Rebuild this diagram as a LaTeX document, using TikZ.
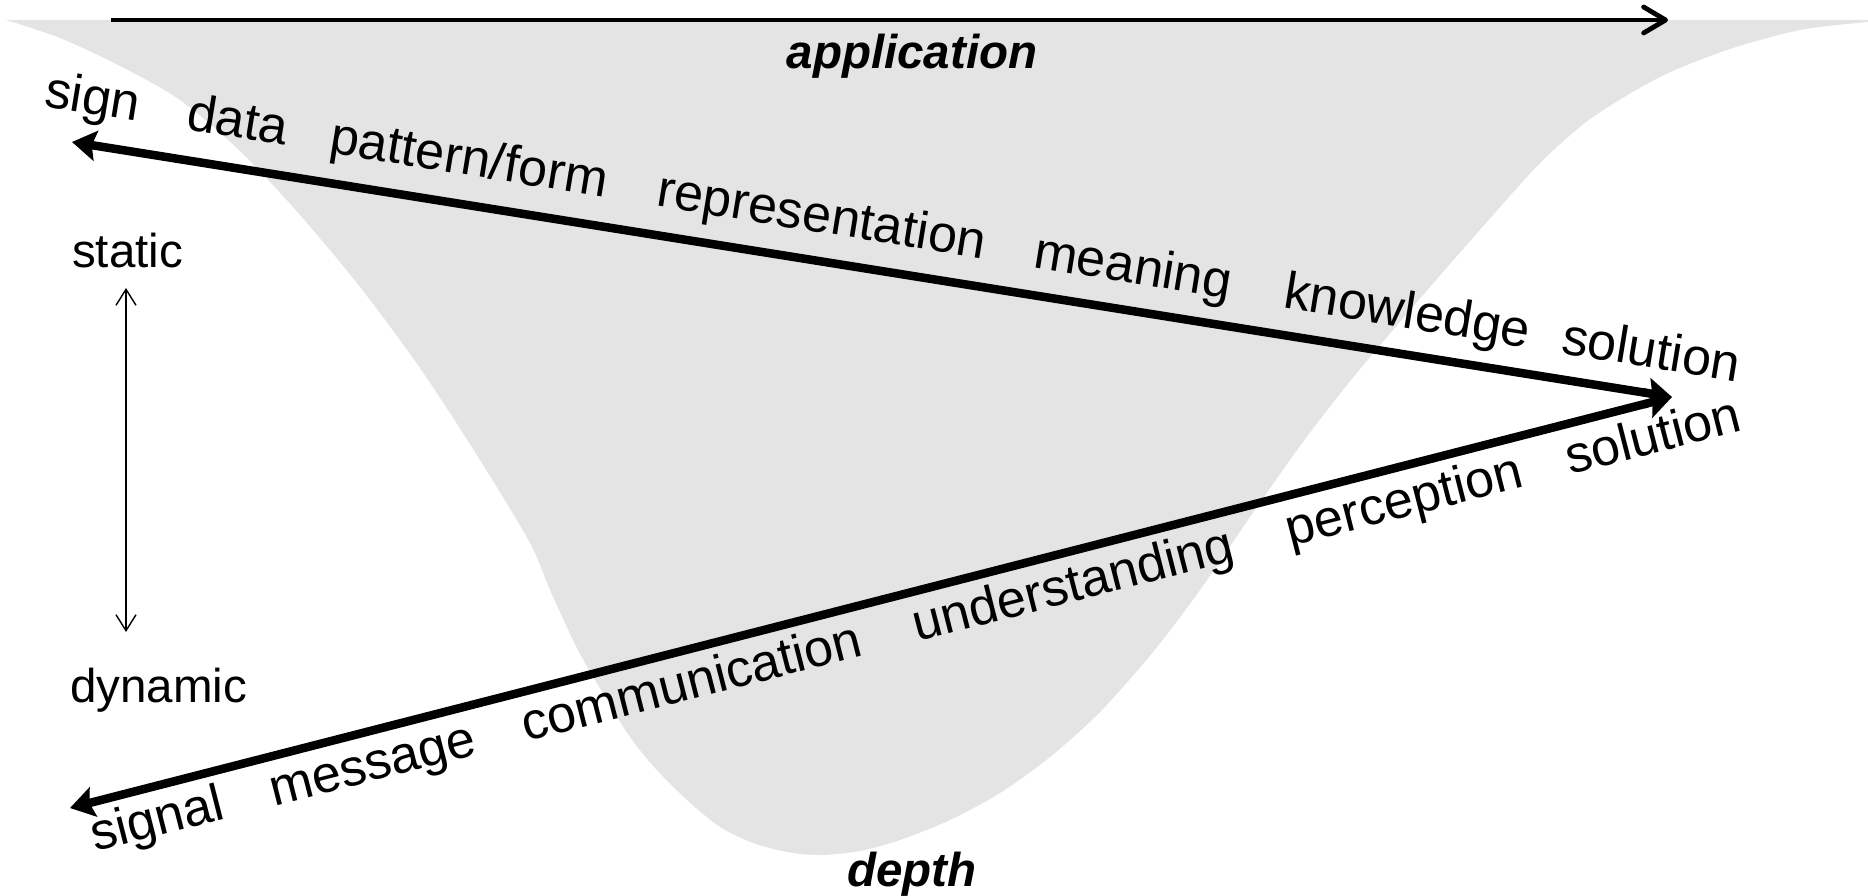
\documentclass[tikz,border=0pt]{standalone}
\usepackage{fontspec}
\setmainfont{Liberation Sans}
\usetikzlibrary{arrows.meta,patterns}
\definecolor{stone}{RGB}{228,228,228}
\definecolor{stonelight}{RGB}{246,246,246}
\definecolor{stonedark}{RGB}{196,196,196}

% speckled tile for the granite-like fill
\pgfdeclarepatterninherentlycolored{granite}{\pgfpointorigin}{\pgfpoint{120pt}{120pt}}{\pgfpoint{120pt}{120pt}}{%
  \pgfmathsetseed{11}%
  \pgfsetfillcolor{stonelight}%
  \foreach \i in {1,...,170}{%
    \pgfmathsetmacro\px{3.5+rnd*113}\pgfmathsetmacro\py{3.5+rnd*113}%
    \pgfmathsetmacro\pr{1.5+rnd*1.5}%
    \pgfpathcircle{\pgfpoint{\px pt}{\py pt}}{\pr pt}}%
  \pgfusepath{fill}%
  \pgfsetfillcolor{stonedark}%
  \foreach \i in {1,...,150}{%
    \pgfmathsetmacro\px{2.5+rnd*115}\pgfmathsetmacro\py{2.5+rnd*115}%
    \pgfmathsetmacro\pr{0.9+rnd*0.9}%
    \pgfpathcircle{\pgfpoint{\px pt}{\py pt}}{\pr pt}}%
  \pgfusepath{fill}%
}

% outline of the textured funnel
\newcommand\funnelpath{(6,20) -- (1868,20) -- plot[smooth,tension=0.5] coordinates {
  (1868,22) (1800,30) (1727,50) (1660,77) (1593,117) (1543,160) (1493,215)
  (1443,272) (1393,330) (1347,385) (1300,446) (1250,517) (1200,590) (1153,652)
  (1100,712) (1050,757) (1000,793) (950,820) (900,840) (860,851) (820,855)
  (787,852) (753,843) (720,827) (687,800) (655,768) (630,737) (607,700)
  (578,650) (550,590) (530,543) (480,460) (420,368) (360,287) (300,215)
  (240,151) (180,100) (120,66) (60,38) (6,20)} -- cycle}

\begin{document}
\begin{tikzpicture}[x=1pt,y=-1pt,
  word/.style={inner sep=0pt, anchor=base west, font=\fontsize{52}{60}\selectfont},
  pole/.style={inner sep=0pt, anchor=base west, font=\fontsize{47.5}{56}\selectfont},
  axislabel/.style={inner sep=0pt, anchor=base, font=\fontsize{47.5}{56}\selectfont\bfseries\itshape},
  axisarrow/.style={line width=4.8pt, -{Straight Barb[length=22pt,width=26pt,round]}},
  bigarrow/.style={line width=8.5pt,
    {Stealth[length=24pt,width=30pt,inset=4pt]}-{Stealth[length=24pt,width=30pt,inset=4pt]}},
  thinarrow/.style={line width=1.4pt,
    {Straight Barb[length=16pt,width=20pt]}-{Straight Barb[length=16pt,width=20pt]}}
]
\useasboundingbox (0,0) rectangle (1868,896);

% textured gray funnel
\fill[stone] \funnelpath;
\fill[pattern=granite] \funnelpath;

% application axis
\coordinate (appL) at (111,20);
\coordinate (appR) at (1668,20);
\draw[axisarrow] (appL) -- (appR);
\node[axislabel] (application) at (912,69) {application};
\node[axislabel] (depth) at (912,886) {depth};

% static / dynamic scale
\node[pole] (static) at (72,267) {static};
\node[pole] (dynamic) at (70,702) {dynamic};
\coordinate (vTop) at (126,288);
\coordinate (vBot) at (126,632);
\draw[thinarrow] (vTop) -- (vBot);

% the two long arrows meeting at the right
\coordinate (tip) at (1672,397);
\coordinate (signEnd) at (72,142);
\coordinate (signalEnd) at (70,808);
\draw[bigarrow] (signEnd) -- (tip);
\draw[bigarrow] (signalEnd) -- (tip);

% words above the upper arrow
\begin{scope}[every node/.style={word, rotate=-9.25}]
  \node (u1) at (43,106) {sign};
  \node (u2) at (185,129.1) {data};
  \node (u3) at (328,152.4) {pattern/form};
  \node (u4) at (655,205.6) {representation};
  \node (u5) at (1032,267) {meaning};
  \node (u6) at (1282,307.7) {knowledge};
  \node (u7) at (1560,353) {solution};
\end{scope}

% words below the lower arrow
\begin{scope}[every node/.style={word, rotate=14.34}]
  \node (l1) at (95,852) {signal};
  \node (l2) at (274,806.2) {message};
  \node (l3) at (526,741.8) {communication};
  \node (l4) at (917,641.9) {understanding};
  \node (l5) at (1290,546.6) {perception};
  \node (l6) at (1570,475) {solution};
\end{scope}
\end{tikzpicture}
\end{document}
